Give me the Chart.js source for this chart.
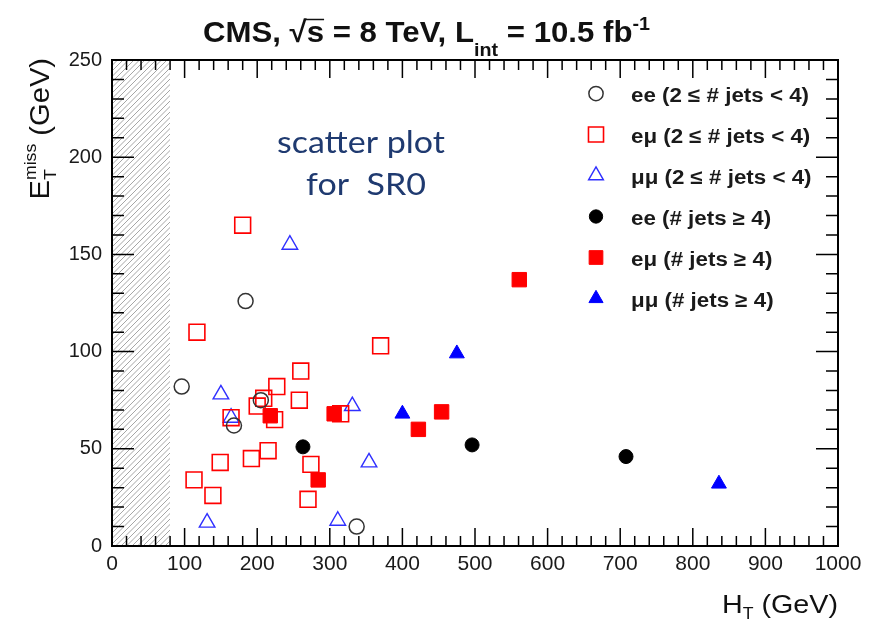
<!DOCTYPE html>
<html>
<head>
<meta charset="utf-8">
<script src="https://cdn.jsdelivr.net/npm/chart.js@4.4.1/dist/chart.umd.min.js"></script>
<style>
  html, body { margin: 0; padding: 0; background: #fff; }
</style>
</head>
<body>
<canvas id="scatter" width="871" height="622"></canvas>
<script>
// [H_T, E_T^miss] in GeV
const eeLow = [[96, 82], [168, 62], [205, 75], [184, 126], [337, 10]];
const emuLow = [
  [117, 110], [164, 66], [200, 72], [209, 76], [227, 82], [260, 90],
  [258, 75], [224, 65], [370, 103], [149, 43], [113, 34], [139, 26],
  [192, 45], [215, 49], [274, 42], [270, 24], [315, 68], [180, 165]
];
const mumuLow = [[150, 78], [164, 66], [131, 12], [311, 13], [331, 72], [354, 43], [245, 155]];
const eeHigh = [[263, 51], [496, 52], [708, 46]];
const emuHigh = [[218, 67], [284, 34], [306, 68], [422, 60], [454, 69], [561, 137]];
const mumuHigh = [[475, 99], [400, 68], [836, 32]];

const seriesLabels = [
  'ee (2 \u2264 # jets < 4)',
  'e\u03bc (2 \u2264 # jets < 4)',
  '\u03bc\u03bc (2 \u2264 # jets < 4)',
  'ee (# jets \u2265 4)',
  'e\u03bc (# jets \u2265 4)',
  '\u03bc\u03bc (# jets \u2265 4)'
];
const htTickLabels = ['0', '100', '200', '300', '400', '500', '600', '700', '800', '900', '1000'];
const metTickLabels = ['0', '50', '100', '150', '200', '250'];
const hatchEnd = 80; // H_T below this is excluded

const SANS = '"Liberation Sans", Arial, Helvetica, sans-serif';
const toXY = arr => arr.map(p => ({ x: p[0], y: p[1] }));

// parts: [text, font, dy]
function drawRich(ctx, parts, x, y) {
  let cx = x;
  parts.forEach(([t, font, dy]) => {
    ctx.font = font;
    ctx.fillText(t, cx, y + (dy || 0));
    cx += ctx.measureText(t).width;
  });
  return cx;
}
function richWidth(ctx, parts) {
  let w = 0;
  parts.forEach(([t, font]) => { ctx.font = font; w += ctx.measureText(t).width; });
  return w;
}
// draw with a horizontal scale k
function drawFitted(ctx, parts, x, y, k) {
  ctx.save();
  ctx.translate(x, y);
  ctx.scale(k, 1);
  drawRich(ctx, parts, 0, 0);
  ctx.restore();
}

const cmsDecor = {
  id: 'cmsDecor',
  beforeDatasetsDraw(chart) {
    const { ctx, chartArea: a, scales: { x } } = chart;
    const x1 = x.getPixelForValue(hatchEnd);
    ctx.save();
    ctx.beginPath();
    ctx.rect(a.left, a.top, x1 - a.left, a.bottom - a.top);
    ctx.clip();
    ctx.strokeStyle = '#a6a6a6';
    ctx.lineWidth = 1;
    const h = a.bottom - a.top;
    for (let s = a.left - h; s < x1; s += 5.5) {
      ctx.beginPath();
      ctx.moveTo(s, a.bottom);
      ctx.lineTo(s + h, a.top);
      ctx.stroke();
    }
    ctx.restore();
  },
  afterDraw(chart) {
    const { ctx, chartArea: a, scales: { x, y } } = chart;
    ctx.save();

    // frame
    ctx.strokeStyle = '#000';
    ctx.lineWidth = 2;
    ctx.strokeRect(a.left, a.top, a.right - a.left, a.bottom - a.top);

    // ROOT style ticks, inside, on all four sides
    ctx.lineWidth = 1.5;
    ctx.beginPath();
    for (let v = 0; v <= 1000; v += 20) {
      const px = x.getPixelForValue(v);
      const len = v % 100 === 0 ? 18 : 10;
      ctx.moveTo(px, a.bottom); ctx.lineTo(px, a.bottom - len);
      ctx.moveTo(px, a.top); ctx.lineTo(px, a.top + len);
    }
    for (let v = 0; v <= 250; v += 10) {
      const py = y.getPixelForValue(v);
      const len = v % 50 === 0 ? 22 : 12;
      ctx.moveTo(a.left, py); ctx.lineTo(a.left + len, py);
      ctx.moveTo(a.right, py); ctx.lineTo(a.right - len, py);
    }
    ctx.stroke();

    ctx.fillStyle = '#111';
    ctx.strokeStyle = '#111';
    ctx.textBaseline = 'alphabetic';
    ctx.textAlign = 'left';

    // title
    const tb = 'bold 30px ' + SANS;
    const ts = 'bold 19px ' + SANS;
    const title = [['CMS, ', tb], ['\u221a', tb], ['s', tb], [' = 8 TeV, L', tb], ['int', ts, 14], [' = 10.5 fb', tb], ['-1', ts, -12]];
    const kT = 447 / richWidth(ctx, title);
    drawFitted(ctx, title, 203, 42, kT);
    ctx.font = tb;
    const sqX = 203 + kT * ctx.measureText('CMS, \u221a').width;
    const sW = kT * ctx.measureText('s').width;
    ctx.lineWidth = 1.5;
    ctx.beginPath();
    ctx.moveTo(sqX - 1, 19.5); ctx.lineTo(sqX + sW, 19.5);
    ctx.stroke();

    // x axis title
    const af = '26px ' + SANS;
    const afs = '16px ' + SANS;
    const xt = [['H', af], ['T', afs, 6], [' (GeV)', af]];
    drawFitted(ctx, xt, 722, 613, 116 / richWidth(ctx, xt));

    // y axis title, running upwards, ending at the top of the frame
    const yf = '28px ' + SANS;
    const yfs = '17px ' + SANS;
    ctx.save();
    ctx.translate(49, 58);
    ctx.rotate(-Math.PI / 2);
    ctx.font = yf;
    const eW = ctx.measureText('E').width;
    ctx.font = yfs;
    const missW = ctx.measureText('miss').width;
    ctx.font = yf;
    const gW = ctx.measureText(' (GeV)').width;
    const cx = -(eW + missW + gW) * 1.04;
    ctx.scale(1.04, 1);
    ctx.fillText('E', cx / 1.04, 0);
    ctx.font = yfs;
    ctx.fillText('miss', cx / 1.04 + eW, -13);
    ctx.fillText('T', cx / 1.04 + eW, 7);
    ctx.font = yf;
    ctx.fillText(' (GeV)', cx / 1.04 + eW + missW, 0);
    ctx.restore();

    // legend
    const lx = 596, ly0 = 93.5, dy = 41;
    const lf = 'bold 20px ' + SANS;
    const kL = 178 / richWidth(ctx, [[seriesLabels[0], lf]]);
    chart.data.datasets.forEach((ds, i) => {
      const ly = ly0 + i * dy;
      ctx.fillStyle = ds.backgroundColor;
      ctx.strokeStyle = ds.borderColor;
      ctx.lineWidth = ds.borderWidth;
      Chart.helpers.drawPoint(ctx, {
        pointStyle: ds.pointStyle, radius: ds.pointRadius * 0.95,
        borderWidth: ds.borderWidth, rotation: 0
      }, lx, ly);
      ctx.fillStyle = '#1a1a1a';
      drawFitted(ctx, [[ds.label, lf]], 631, ly + 8, kL);
    });

    // annotation
    ctx.fillStyle = '#1f3a70';
    const nf = '30px Lato, "Open Sans", sans-serif';
    const kN = 168 / richWidth(ctx, [['scatter plot', nf]]);
    ctx.font = nf;
    const w2 = kN * ctx.measureText('for  SR0').width;
    drawFitted(ctx, [['scatter plot', nf]], 277, 153, kN);
    drawFitted(ctx, [['for  SR0', nf]], 366 - w2 / 2, 195, kN);

    ctx.restore();
  }
};

new Chart(document.getElementById('scatter'), {
  type: 'scatter',
  data: {
    datasets: [
      { label: seriesLabels[0], data: toXY(eeLow), pointStyle: 'circle', pointRadius: 7.5,
        borderColor: '#333', backgroundColor: 'rgba(0,0,0,0)', borderWidth: 1.5 },
      { label: seriesLabels[1], data: toXY(emuLow), pointStyle: 'rect', pointRadius: 11.2,
        borderColor: '#ff0000', backgroundColor: 'rgba(0,0,0,0)', borderWidth: 1.6 },
      { label: seriesLabels[2], data: toXY(mumuLow), pointStyle: 'triangle', pointRadius: 9,
        borderColor: '#2f2fff', backgroundColor: 'rgba(0,0,0,0)', borderWidth: 1.4 },
      { label: seriesLabels[3], data: toXY(eeHigh), pointStyle: 'circle', pointRadius: 7,
        borderColor: '#000', backgroundColor: '#000', borderWidth: 1 },
      { label: seriesLabels[4], data: toXY(emuHigh), pointStyle: 'rect', pointRadius: 10.2,
        borderColor: '#ff0000', backgroundColor: '#ff0000', borderWidth: 1 },
      { label: seriesLabels[5], data: toXY(mumuHigh), pointStyle: 'triangle', pointRadius: 8.6,
        borderColor: '#0000ff', backgroundColor: '#0000ff', borderWidth: 1 }
    ]
  },
  options: {
    responsive: false,
    animation: false,
    devicePixelRatio: 1,
    layout: { padding: { left: 0, top: 60, right: 33, bottom: 0 } },
    plugins: { legend: { display: false }, tooltip: { enabled: false } },
    scales: {
      x: {
        type: 'linear', min: 0, max: 1000,
        grid: { display: false, drawTicks: false },
        border: { display: false },
        ticks: {
          stepSize: 100, padding: 6, color: '#1a1a1a', maxRotation: 0,
          font: { family: SANS, size: 21 },
          callback: v => htTickLabels[v / 100]
        },
        afterFit: s => { s.height = 76; }
      },
      y: {
        type: 'linear', min: 0, max: 250,
        grid: { display: false, drawTicks: false },
        border: { display: false },
        ticks: {
          stepSize: 50, padding: 10, color: '#1a1a1a',
          font: { family: SANS, size: 20 },
          callback: v => metTickLabels[v / 50]
        },
        afterFit: s => { s.width = 112; }
      }
    }
  },
  plugins: [cmsDecor]
});
</script>
</body>
</html>
